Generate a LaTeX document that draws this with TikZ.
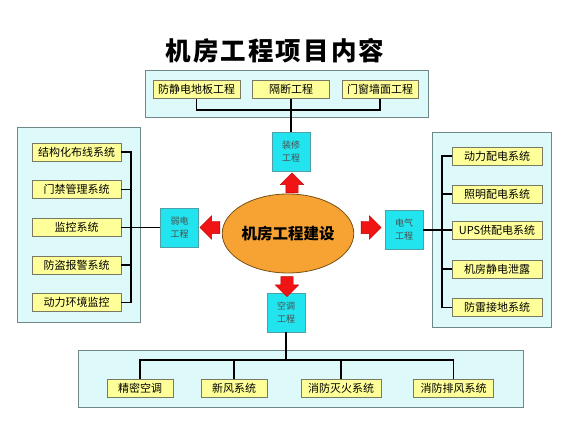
\documentclass[tikz,border=0pt]{standalone}
\usepackage{tikz}
\usepackage{xcolor}
\usepackage{fontspec}
\setmainfont{Noto Sans CJK SC}
\usetikzlibrary{shapes.geometric,shapes.arrows}

\definecolor{panelfill}{RGB}{222,249,249}
\definecolor{paneledge}{RGB}{110,135,135}
\definecolor{itemfill}{RGB}{255,255,153}
\definecolor{itemedge}{RGB}{120,120,100}
\definecolor{boxfill}{RGB}{34,228,238}
\definecolor{boxedge}{RGB}{80,160,170}
\definecolor{hubfill}{RGB}{246,163,52}
\definecolor{hubedge}{RGB}{120,80,20}
\definecolor{arrowred}{RGB}{240,20,20}

\begin{document}
\begin{tikzpicture}[x=1pt,y=1pt,yscale=-1,xscale=1,
  panel/.style={draw=paneledge,fill=panelfill,line width=1},
  item/.style={draw=itemedge,fill=itemfill,line width=0.8,inner sep=0,minimum height=18,font=\fontsize{11}{12}\selectfont},
  subbox/.style={draw=boxedge,fill=boxfill,line width=0.8,inner sep=0,minimum width=38,minimum height=39,align=center,text=black!70,font=\fontsize{9}{13}\selectfont},
  link/.style={line width=1.8,black},
  redarrow/.style={single arrow,fill=arrowred,draw=red!75!black,line width=0.4,inner sep=6,single arrow head extend=5.5,minimum height=20}]
%uncomment if require: \path (0,443); %set diagram left start at 0, and has height of 443
\useasboundingbox [fill=white] (0,0) rectangle (575,443);

% Title
\node (title) at (275,51) {\fontsize{25.5}{27}\selectfont\addfontfeature{LetterSpace=8}\bfseries 机房工程项目内容};

%Shape: Rectangle [panels]
\draw [panel] (145,71) rectangle (428,118);
\draw [panel] (17,128) rectangle (140,322);
\draw [panel] (432,133) rectangle (551,327);
\draw [panel] (78,350) rectangle (523,407);

% Text Node [top]
\node [item,minimum width=87] (fjd) at (196.5,89.5) {防静电地板工程};
\node [item,minimum width=77] (gd) at (291,89.5) {隔断工程};
\node [item,minimum width=76] (mcqm) at (380,89.5) {门窗墙面工程};
\node [subbox] (zx) at (291,152) {装修\\工程};

% Text Node [left]
\node [item,minimum width=89] (jgh) at (76.5,152) {结构化布线系统};
\node [item,minimum width=89] (mj) at (76.5,189.5) {门禁管理系统};
\node [item,minimum width=89] (jk) at (76.5,227.5) {监控系统};
\node [item,minimum width=89] (fdbj) at (76.5,265) {防盗报警系统};
\node [item,minimum width=89] (dlhj) at (76.5,302.5) {动力环境监控};
\node [subbox] (rd) at (179.5,227.5) {弱电\\工程};

% Text Node [right]
\node [item,minimum width=90] (dlpd) at (497,156) {动力配电系统};
\node [item,minimum width=90] (zmpd) at (497,194) {照明配电系统};
\node [item,minimum width=90] (ups) at (497,230) {UPS供配电系统};
\node [item,minimum width=90] (jfjd) at (497,269) {机房静电泄露};
\node [item,minimum width=90] (flj) at (497,307.5) {防雷接地系统};
\node [subbox] (dq) at (404,230) {电气\\工程};

% Text Node [bottom]
\node [item,minimum width=66] (jmkt) at (140,388.5) {精密空调};
\node [item,minimum width=66] (xf) at (234,388.5) {新风系统};
\node [item,minimum width=80] (xfmh) at (341,388.5) {消防灭火系统};
\node [item,minimum width=80] (xfpf) at (453.5,388.5) {消防排风系统};
\node [subbox] (kt) at (286,312.5) {空调\\工程};

% Centre
\node [ellipse,draw=hubedge,fill=hubfill,line width=0.8,minimum width=118,minimum height=79,inner sep=0] (hub) at (288,233.5) {\fontsize{15.5}{16}\selectfont\bfseries 机房工程建设};

% Red arrows
\node [redarrow,rotate=90] (aup) at (292,186) {};
\node [redarrow,rotate=-90] (adown) at (287,283.5) {};
\node [redarrow,rotate=180] (aleft) at (213,227.5) {};
\node [redarrow] (aright) at (368,227.5) {};

%Straight Lines [top]
\draw [link] (fjd.south) -- ++(0,11) -| (mcqm.south);
\draw [link] (gd.south) -- (zx.north);

%Straight Lines [left]
\draw [link] (jgh.east) -- ++(9.5,0) |- (dlhj.east);
\draw [link] (mj.east) -- ++(9.5,0);
\draw [link] (fdbj.east) -- ++(9.5,0);
\draw [link] (jk.east) -- (rd.west);

%Straight Lines [right]
\draw [link] (dlpd.west) -- ++(-10,0) |- (flj.west);
\draw [link] (zmpd.west) -- ++(-10,0);
\draw [link] (jfjd.west) -- ++(-10,0);
\draw [link] (dq.east) -- (ups.west);

%Straight Lines [bottom]
\draw [link] (jmkt.north) -- ++(0,-19) -| (xfpf.north);
\draw [link] (xf.north) -- ++(0,-19);
\draw [link] (xfmh.north) -- ++(0,-19);
\draw [link] (kt.south) -- ++(0,28);

\end{tikzpicture}
\end{document}
